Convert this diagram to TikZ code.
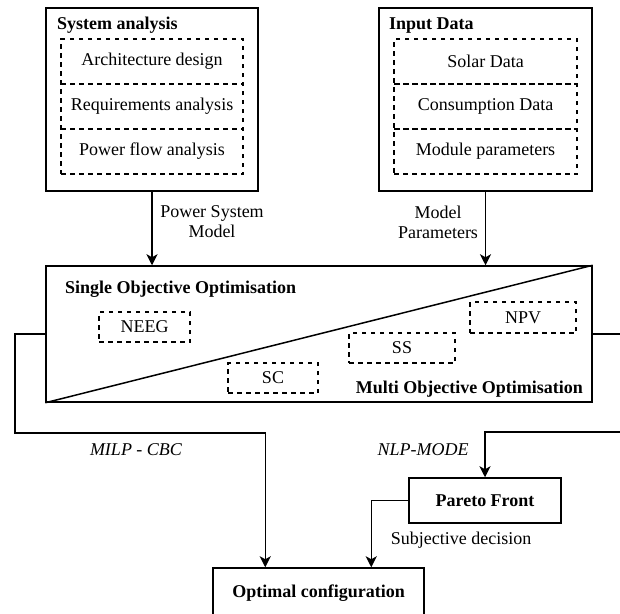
\documentclass[tikz,border=0pt]{standalone}
\usepackage{fontspec}
\setmainfont{Liberation Serif}
\usetikzlibrary{arrows.meta,calc}

\tikzset{
  txt/.style={font=\fontsize{18}{20}\selectfont},
  solidbox/.style={draw, line width=1.5pt, rectangle, inner sep=0pt, txt},
  dashbox/.style={draw, line width=1.3pt, dash pattern=on 4.5pt off 4.5pt, rectangle, inner sep=0pt, txt},
  conn/.style={line width=1.5pt},
  arr/.style={conn, -{Stealth[length=11pt,width=11pt,inset=3pt]}},
  lbl/.style={txt, inner sep=0pt, align=center},
}

\begin{document}
\begin{tikzpicture}[x=1pt, y=-1pt]
  \useasboundingbox (0,0) rectangle (620,613);
  \clip (0,0) rectangle (620,613);
  \fill[white] (0,0) rectangle (620,613);

  % System analysis block
  \node[solidbox, minimum width=212pt, minimum height=183pt] (sys) at (152,99.5) {};
  \node[lbl, font=\fontsize{18}{20}\selectfont\bfseries, anchor=base west] (systitle) at (57,29) {System analysis};
  \node[dashbox, minimum width=182pt, minimum height=45pt] (arch) at (152,61.5) {Architecture design};
  \node[dashbox, minimum width=182pt, minimum height=45pt] (req) at (152,106.5) {Requirements analysis};
  \node[dashbox, minimum width=182pt, minimum height=45pt] (pfa) at (152,151.5) {Power flow analysis};

  % Input data block
  \node[solidbox, minimum width=213pt, minimum height=183pt] (inp) at (485.5,99.5) {};
  \node[lbl, font=\fontsize{18}{20}\selectfont\bfseries, anchor=base west] (inptitle) at (389,29) {Input Data};
  \node[dashbox, minimum width=183pt, minimum height=45pt] (solar) at (485.5,61.5) {Solar Data};
  \node[dashbox, minimum width=183pt, minimum height=45pt] (cons) at (485.5,106.5) {Consumption Data};
  \node[dashbox, minimum width=183pt, minimum height=45pt] (modp) at (485.5,151.5) {Module parameters};

  % Optimisation block
  \node[solidbox, minimum width=546pt, minimum height=136pt] (main) at (319,334) {};
  \draw[conn] (main.south west) -- (main.north east);
  \node[lbl, font=\fontsize{18}{20}\selectfont\bfseries, anchor=base west] (single) at (65,293) {Single Objective Optimisation};
  \node[lbl, font=\fontsize{18}{20}\selectfont\bfseries, anchor=base east] (multi) at (583,393) {Multi Objective Optimisation};
  \node[dashbox, minimum width=91pt, minimum height=30pt] (neeg) at (144.5,327) {NEEG};
  \node[dashbox, minimum width=90pt, minimum height=30pt] (sc) at (273,378) {SC};
  \node[dashbox, minimum width=106pt, minimum height=30pt] (ss) at (402,348) {SS};
  \node[dashbox, minimum width=106pt, minimum height=31pt] (npv) at (523,317.5) {NPV};

  % Result blocks
  \node[solidbox, font=\fontsize{18}{20}\selectfont\bfseries, minimum width=152pt, minimum height=45pt] (pareto) at (485,500.5) {Pareto Front};
  \node[solidbox, font=\fontsize{18}{20}\selectfont\bfseries, minimum width=211pt, minimum height=50pt] (optcfg) at (318.5,593) {Optimal configuration};

  % Inputs into the optimisation
  \draw[arr] (sys.south) -- (sys.south |- main.north);
  \draw[arr] (inp.south) -- (inp.south |- main.north);
  \node[lbl] (psm) at (212,222) {Power System\\Model};
  \node[lbl] (mpar) at (438,222) {Model\\Parameters};

  % Single objective route
  \coordinate (lbend) at (15,433);
  \draw[arr] (main.west) -| (lbend) -| ([xshift=53pt]optcfg.north west);
  \node[lbl, font=\fontsize{18}{20}\selectfont\itshape] (milp) at (136,450) {MILP - CBC};

  % Multi objective route
  \coordinate (rbend) at (630,432);
  \draw[arr] (main.east) -| (rbend) -| (pareto.north);
  \node[lbl, font=\fontsize{18}{20}\selectfont\itshape] (nlp) at (423,450) {NLP-MODE};

  % Decision from the Pareto front
  \draw[arr] (pareto.west) -| ([xshift=159pt]optcfg.north west);
  \node[lbl] (subj) at (461,540) {Subjective decision};
\end{tikzpicture}
\end{document}
